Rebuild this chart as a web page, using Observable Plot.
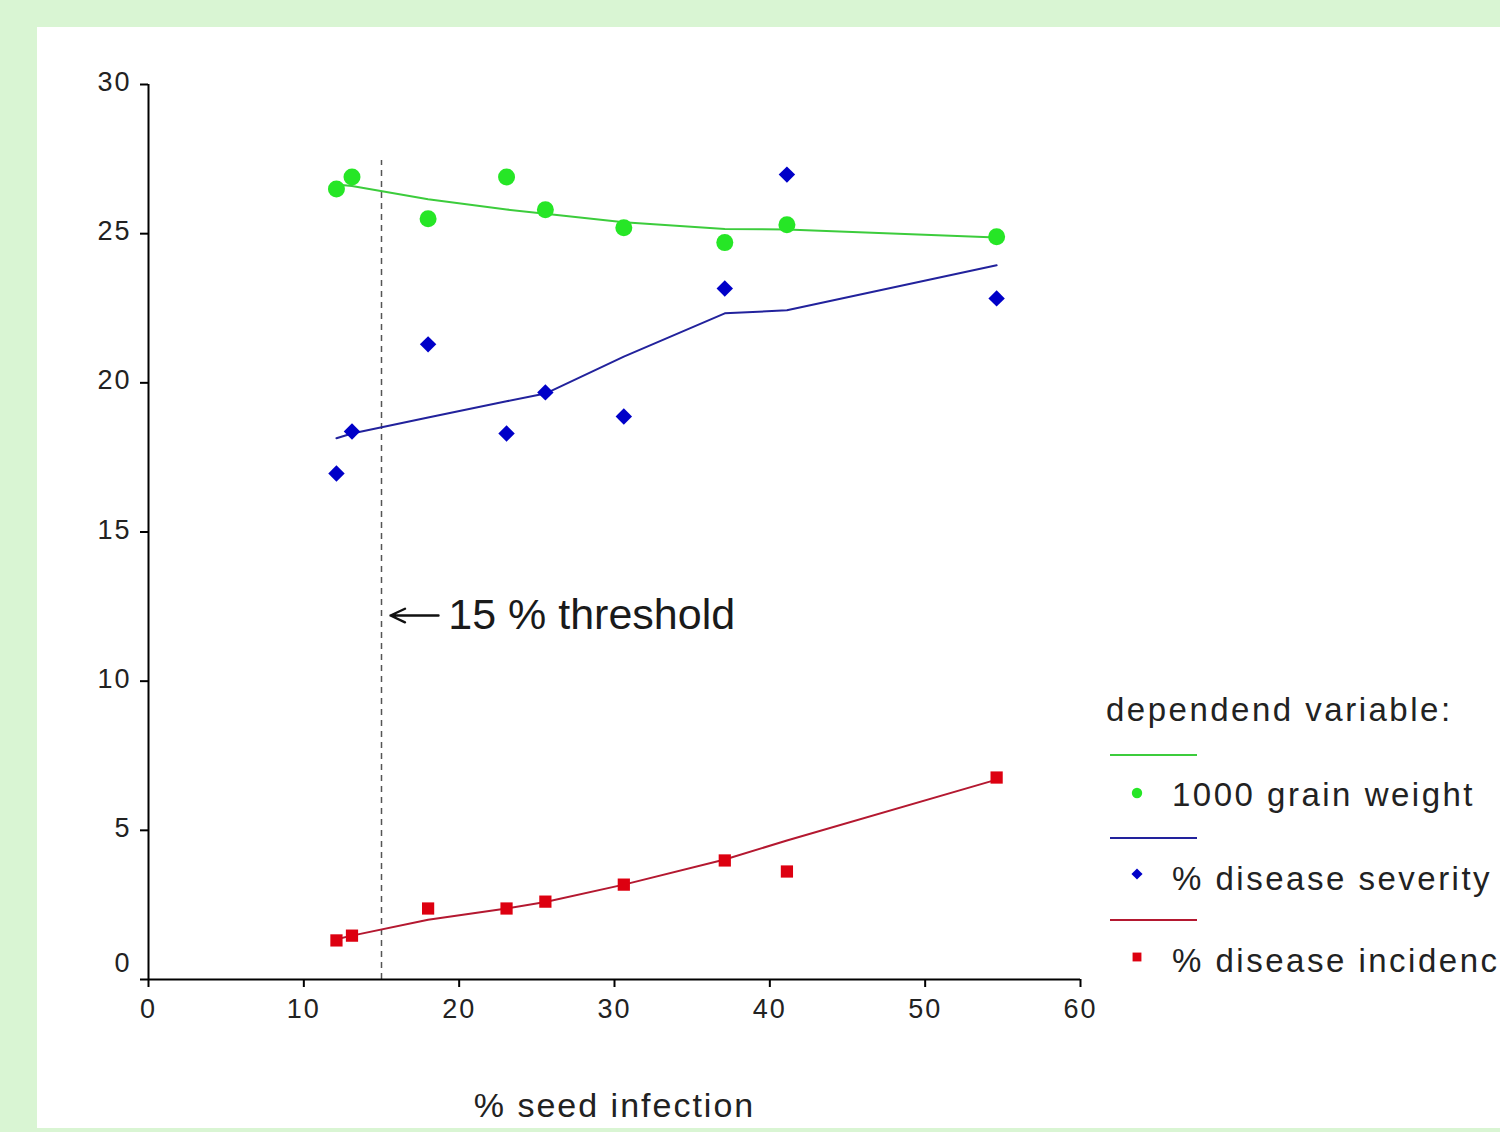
<!DOCTYPE html>
<html>
<head>
<meta charset="utf-8">
<script src="https://cdn.jsdelivr.net/npm/d3@7"></script>
<script src="https://cdn.jsdelivr.net/npm/@observablehq/plot@0.6"></script>
<style>
  html, body { margin: 0; padding: 0; width: 1500px; height: 1132px; overflow: hidden; background: #d9f5d3; }
  #panel { position: absolute; left: 37px; top: 27px; width: 1463px; height: 1101px; background: #ffffff; overflow: hidden; }
  #chart { position: absolute; left: 0; top: 0; }
  #legend { position: absolute; left: 0; top: 0; pointer-events: none; }
  #chart svg { max-width: none; }
</style>
</head>
<body>
<div id="panel"><div id="chart"></div><svg id="legend" width="1463" height="1101"></svg></div>
<script>
// ---- data ----
const seedInfection   = [12.1, 13.1, 18.0, 23.05, 25.55, 30.6, 37.1, 41.1, 54.6];
const grainWeight     = [26.5, 26.9, 25.5, 26.9, 25.8, 25.2, 24.7, 25.3, 24.9];
const grainWeightFit  = [26.65, 26.6, 26.15, 25.81, 25.67, 25.38, 25.16, 25.14, 24.87];
const severity        = [16.96, 18.37, 21.29, 18.30, 19.68, 18.87, 23.16, 26.98, 22.83];
const severityFit     = [18.14, 18.30, 18.84, 19.38, 19.64, 20.88, 22.33, 22.43, 23.94];
const incidence       = [1.31, 1.47, 2.38, 2.38, 2.61, 3.18, 3.99, 3.62, 6.77];
const incidenceFit    = [1.35, 1.47, 2.0, 2.38, 2.6, 3.18, 4.02, 4.66, 6.7];
const seriesNames     = ["1000 grain weight", "% disease severity", "% disease incidence"];
const xTicks          = [0, 10, 20, 30, 40, 50, 60];
const yTicks          = [0, 5, 10, 15, 20, 25, 30];
const xLabel          = "% seed infection";
const legendTitle     = "dependend variable:";
const threshold       = 15;
const thresholdTop    = 27.45;
const thresholdLabel  = "15 % threshold";
const thresholdY      = 12.2;
const arrowFromX      = 18.67;
const arrowToX        = 15.58;
const thresholdTextX  = 19.3;

// ---- styles ----
const seriesStyle = [
  {symbol: "circle",   r: 8.5, fill: "#26e626", line: "#3ccc3c", lr: 5.2},
  {symbol: "diamond2", r: 7.4, fill: "#0000c8", line: "#22229c", lr: 5},
  {symbol: "square",   r: 6.9, fill: "#dd0010", line: "#b41830", lr: 5}
];
const seriesValues = [[grainWeight, grainWeightFit], [severity, severityFit], [incidence, incidenceFit]];
const tables = seriesValues.map(([vals, fit], k) =>
  seedInfection.map((x, i) => ({x, y: vals[i], fit: fit[i], series: seriesNames[k]})));

const font = "'Liberation Sans', Arial, sans-serif";
const marks = [
  Plot.ruleX([threshold], {y1: 0, y2: thresholdTop, stroke: "#555", strokeWidth: 1.5, strokeDasharray: "6,5"}),
  Plot.ruleY([0], {stroke: "#000", strokeWidth: 2}),
  Plot.ruleX([0], {stroke: "#000", strokeWidth: 2}),
  Plot.axisX({ticks: xTicks, tickSize: 8, fill: "none", stroke: "#000", strokeWidth: 2, label: null}),
  Plot.axisX({ticks: xTicks, tickSize: 8, tickPadding: 11, stroke: "none", fill: "#222", fontSize: 27, label: null, tickFormat: d => String(d)}),
  Plot.axisY({ticks: yTicks, tickSize: 8, fill: "none", stroke: "#000", strokeWidth: 2, label: null}),
  Plot.axisY({ticks: yTicks.filter(t => t > 0), tickSize: 8, tickPadding: 9, stroke: "none", fill: "#222", fontSize: 27, dy: -2, label: null, tickFormat: d => String(d)}),
  Plot.axisY({ticks: yTicks.filter(t => t === 0), tickSize: 8, tickPadding: 9, stroke: "none", fill: "#222", fontSize: 27, dy: -16, label: null, tickFormat: d => String(d)})
];
tables.forEach((t, k) => {
  const s = seriesStyle[k];
  marks.push(Plot.line(t, {x: "x", y: "fit", stroke: s.line, strokeWidth: 2}));
});
tables.forEach((t, k) => {
  const s = seriesStyle[k];
  marks.push(Plot.dot(t, {x: "x", y: "y", symbol: s.symbol, r: s.r, fill: s.fill, stroke: "none"}));
});
marks.push(
  Plot.arrow([thresholdLabel], {x1: arrowFromX, x2: arrowToX, y1: thresholdY, y2: thresholdY, stroke: "#111", strokeWidth: 2.4, headLength: 11, headAngle: 50}),
  Plot.text([thresholdLabel], {x: thresholdTextX, y: thresholdY, text: d => d, textAnchor: "start", lineAnchor: "middle", fontSize: 43, fill: "#1a1a1a"}),
  Plot.text([xLabel], {frameAnchor: "bottom", dy: 127, text: d => d, lineAnchor: "middle", fontSize: 34, fill: "#222"})
);

const chart = Plot.plot({
  width: 1463, height: 1101,
  marginLeft: 111, marginRight: 420, marginTop: 57, marginBottom: 149,
  x: {domain: [0, 60]},
  y: {domain: [0, 30]},
  style: {fontFamily: font, fontSize: "27px", background: "transparent", color: "#222", overflow: "visible"},
  marks
});
document.getElementById("chart").appendChild(chart);

// letter spacing like the original rendering
d3.select(chart).selectAll("text").style("letter-spacing", "2px");
d3.select(chart).selectAll("text").filter(function() { return this.textContent === thresholdLabel; }).style("letter-spacing", "0px");

// ---- legend ----
const lg = d3.select("#legend");
lg.append("text").attr("x", 1069).attr("y", 694).text(legendTitle)
  .attr("font-family", font).attr("font-size", 33).attr("fill", "#222").style("letter-spacing", "2.5px");
const rowLineY = [728, 811, 893];
const rowMarkY = [766, 847, 930];
const rowTextY = [779, 863, 945];
seriesNames.forEach((name, k) => {
  const s = seriesStyle[k];
  lg.append("line").attr("x1", 1073).attr("x2", 1160).attr("y1", rowLineY[k]).attr("y2", rowLineY[k])
    .attr("stroke", s.line).attr("stroke-width", 2);
  const sym = {circle: d3.symbolCircle, diamond2: d3.symbolDiamond2, square: d3.symbolSquare}[s.symbol];
  lg.append("path").attr("d", d3.symbol(sym, Math.PI * s.lr * s.lr)())
    .attr("transform", `translate(1100,${rowMarkY[k]})`).attr("fill", s.fill);
  lg.append("text").attr("x", 1135).attr("y", rowTextY[k]).text(name)
    .attr("font-family", font).attr("font-size", 33).attr("fill", "#222").style("letter-spacing", "2.5px");
});
</script>
</body>
</html>
